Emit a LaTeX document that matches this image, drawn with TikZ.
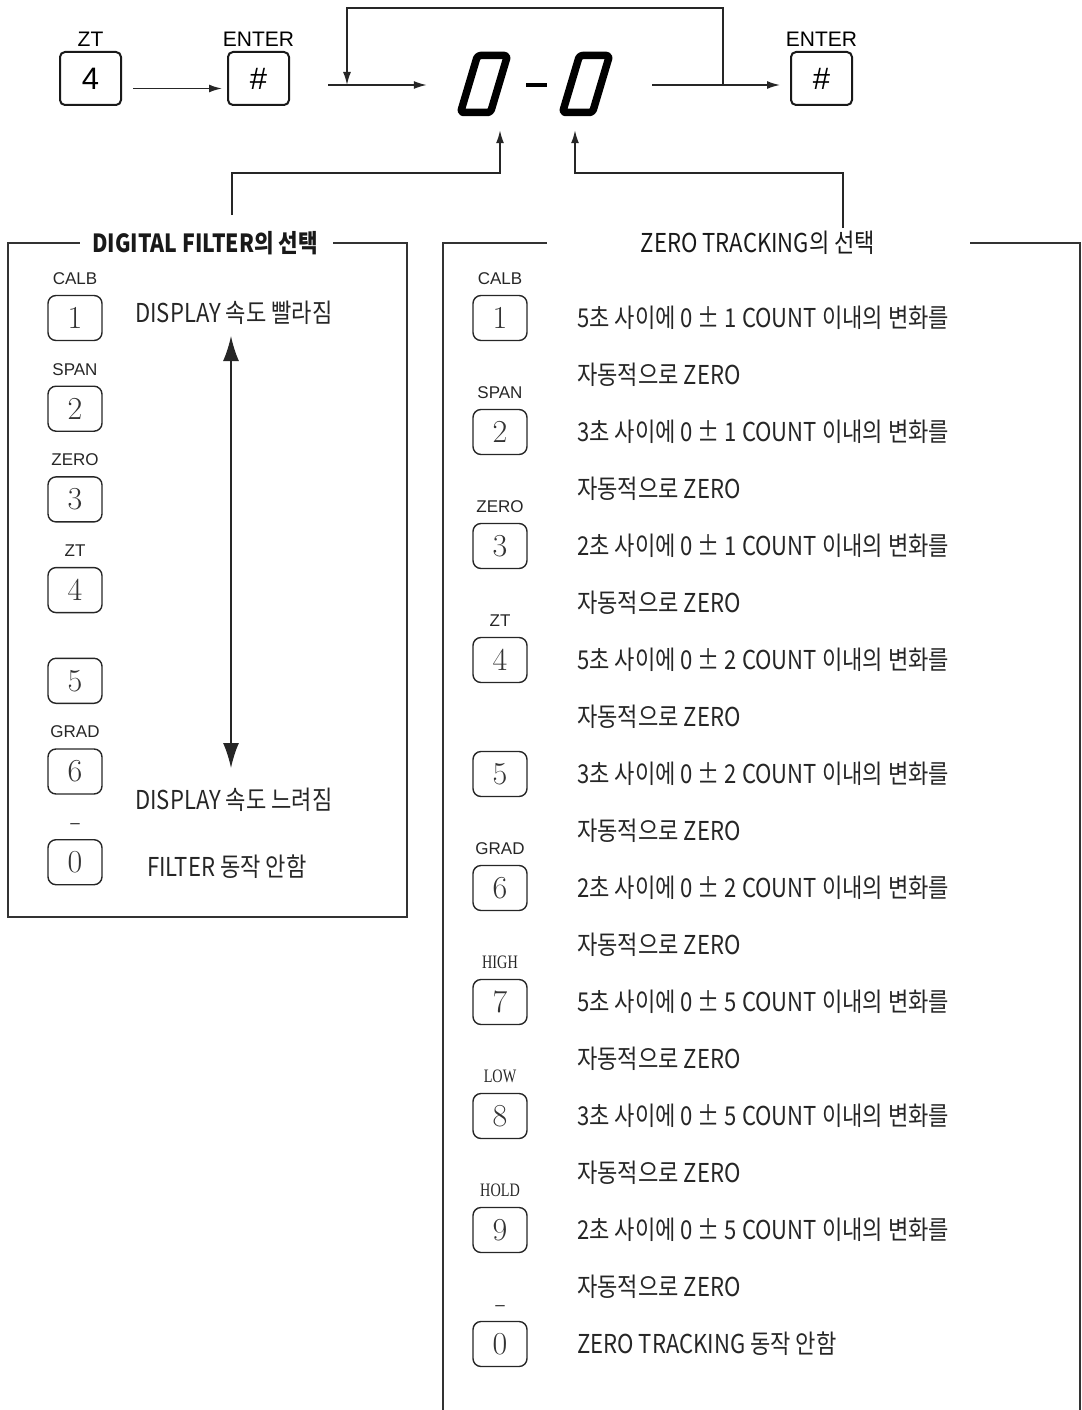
\documentclass[tikz,border=0pt]{standalone}
\usepackage{fontspec}
\newfontfamily\kr[FakeStretch=0.85]{Noto Sans CJK KR}
\newfontfamily\keyfont{Liberation Sans}
\newfontfamily\serifnarrow[FakeStretch=0.75]{Liberation Serif}
\usetikzlibrary{arrows.meta, positioning}

\tikzset{
  frame/.style={draw=black!80, line width=1.8pt},
  link/.style={draw=black!85, line width=1.6pt},
  linkarrow/.style={link, -{Latex[length=13pt,width=8pt]}},
  key/.style={draw=black!85, line width=1.4pt, rounded corners=8pt, minimum width=54pt, minimum height=45pt, inner sep=0pt, text=black!80, font=\fontsize{32}{32}\selectfont},
  topkey/.style={draw=black!90, line width=2pt, rounded corners=5pt, minimum width=61pt, minimum height=53pt, inner sep=0pt, font=\keyfont\fontsize{31}{31}\selectfont},
  keylab/.style={inner sep=0pt, text=black!85, font=\keyfont\fontsize{17}{17}\selectfont},
  oldlab/.style={inner sep=0pt, text=black!85, font=\serifnarrow\fontsize{19}{19}\selectfont},
  toplab/.style={inner sep=0pt, font=\keyfont\fontsize{21}{21}\selectfont},
  desc/.style={anchor=west, inner sep=0pt, text=black!85, font=\kr\fontsize{26}{26}\selectfont},
  title/.style={inner sep=0pt, text=black!90, font=\kr\fontsize{26}{26}\selectfont},
  seg/.style={line width=7.5pt, line join=round, black},
  digit/.style={minimum width=56pt, minimum height=92pt, inner sep=0pt}
}

\begin{document}
\begin{tikzpicture}[x=1pt, y=-1pt]
  \useasboundingbox (0,0) rectangle (1081,1410);

  % top row
  \node[topkey] (zt) at (90.5,78.5) {4};
  \node[toplab, above=4pt of zt] (ztlab) {ZT};
  \node[topkey] (ent1) at (258.5,78.5) {\#};
  \node[toplab, above=4pt of ent1] (ent1lab) {ENTER};
  \node[topkey] (ent2) at (821.5,78.5) {\#};
  \node[toplab, above=4pt of ent2] (ent2lab) {ENTER};
  \draw[linkarrow] ([shift={(11,10)}]zt.east) -- ([shift={(-5,10)}]ent1.west);

  \node[digit] (dig1) at (484,84) {};
  \node[digit] (dig2) at (586,84) {};
  \node[minimum width=225pt, minimum height=70pt, inner sep=0pt] (disp) at (539.5,85) {};
  \foreach \d in {dig1,dig2}
    \draw[seg, rounded corners=3pt] (\d.center) ++(-6.5,-28.5) -- ++(30,0) -- ++(-17,57) -- ++(-30,0) -- cycle;
  \draw[line width=4pt] (dig1.center) ++(42,1) -- ++(21,0);

  \coordinate (in1) at (328,85);
  \coordinate (loopL) at (347,85);
  \coordinate (loopR) at (723,85);
  \draw[linkarrow] (in1) -- (disp.west);
  \draw[linkarrow] (disp.east) -- ([xshift=-10pt]ent2.west |- disp.east);
  \draw[linkarrow] (loopR) -- ++(0,-77) -| (loopL);

  % links to the display
  \coordinate (fsel) at (232,215);
  \coordinate (zsel) at (843,228);
  \draw[linkarrow] (fsel) -- ++(0,-42) -| ([xshift=16pt]dig1.south);
  \draw[linkarrow] (zsel) -- ++(0,-55) -| ([xshift=-11pt]dig2.south);

  % digital filter
  \node[title, font=\kr\bfseries\fontsize{25}{25}\selectfont] (ftitle) at (205,243) {DIGITAL FILTER의 선택};
  \draw[frame] ([xshift=-12pt]ftitle.west) -- (8,243) -- (8,917) -- (407,917) -- (407,243) -- ([xshift=15pt]ftitle.east);
  \foreach \n/\lab [count=\i from 0] in {1/CALB,2/SPAN,3/ZERO,4/ZT,5/{},6/GRAD,0/–} {
    \node[key] (fk\n) at (75,318+90.7*\i) {\n};
    \node[keylab, above=10pt of fk\n] (fl\n) {\lab};
  }
  \node[desc] (fast) at (135,313) {DISPLAY 속도 빨라짐};
  \node[desc] (slow) at (135,800) {DISPLAY 속도 느려짐};
  \node[desc] (nofilter) at (147,867) {FILTER 동작 안함};
  \coordinate (fastend) at (231,336);
  \coordinate (slowend) at (231,768);
  \draw[link, {Latex[length=25pt,width=16pt]}-{Latex[length=25pt,width=16pt]}] (fastend) -- (slowend);

  % zero tracking
  \node[title] (ztitle) at (758,243) {ZERO TRACKING의 선택};
  \draw[frame] ([xshift=-94pt]ztitle.west) -- (443,243) -- (443,1410);
  \draw[frame] ([xshift=95pt]ztitle.east) -- (1080,243) -- (1080,1410);
  \foreach \n/\lab/\lf/\nsec/\cnt [count=\i from 0] in {1/CALB/keylab/5/1,2/SPAN/keylab/3/1,3/ZERO/keylab/2/1,4/ZT/keylab/5/2,5/{}/keylab/3/2,6/GRAD/keylab/2/2,7/HIGH/oldlab/5/5,8/LOW/oldlab/3/5,9/HOLD/oldlab/2/5} {
    \node[key] (zk\n) at (500,318+114*\i) {\n};
    \node[\lf, above=10pt of zk\n] (zl\n) {\lab};
    \node[desc] (za\n) at (577,318+114*\i) {{\nsec}초 사이에 0 ± {\cnt} COUNT 이내의 변화를};
    \node[desc] (zb\n) at (577,375+114*\i) {자동적으로 ZERO};
  }
  \node[key] (zk0) at (500,1344) {0};
  \node[keylab, above=10pt of zk0] (zl0) {–};
  \node[desc] (za0) at (577,1344) {ZERO TRACKING 동작 안함};
\end{tikzpicture}
\end{document}
